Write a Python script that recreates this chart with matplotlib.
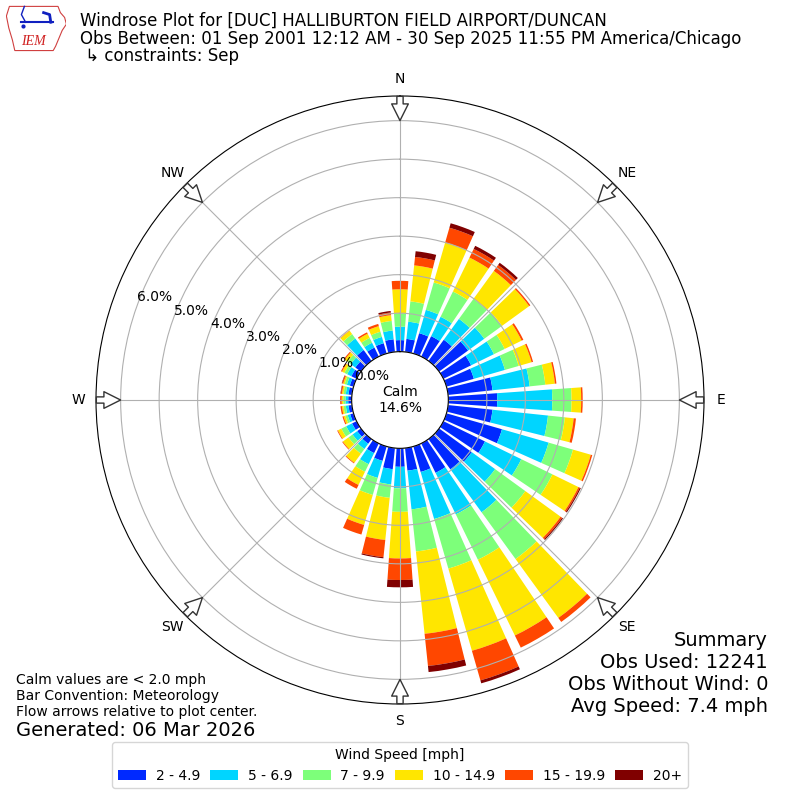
import numpy as np
import matplotlib
matplotlib.use("Agg")
import matplotlib.pyplot as plt
from matplotlib.patches import FancyArrowPatch, Polygon

# wind direction bins (deg, meteorological) and speed bins
directions = np.arange(0, 360, 10)
speed_labels = ["2 - 4.9", "5 - 6.9", "7 - 9.9", "10 - 14.9", "15 - 19.9", "20+"]

# percent of obs per direction, one list per speed bin
spd_2_5 = [0.30, 0.34, 0.55, 0.59, 0.68, 0.93, 0.80, 0.74, 1.16, 1.27, 1.16, 1.50,
           1.20, 1.05, 0.97, 0.85, 0.69, 0.59, 0.48, 0.55, 0.39, 0.28, 0.15, 0.12,
           0.13, 0.09, 0.09, 0.09, 0.09, 0.10, 0.15, 0.18, 0.35, 0.26, 0.28, 0.33]
spd_5_7 = [0.35, 0.45, 0.63, 0.56, 0.67, 0.52, 0.66, 0.84, 0.97, 1.43, 1.45, 1.26,
           1.05, 0.75, 1.38, 1.20, 1.27, 1.01, 0.56, 0.40, 0.46, 0.32, 0.17, 0.15,
           0.17, 0.07, 0.07, 0.07, 0.07, 0.08, 0.12, 0.15, 0.37, 0.14, 0.17, 0.23]
spd_7_10 = [0.35, 0.53, 0.74, 0.73, 0.64, 0.57, 0.31, 0.37, 0.41, 0.50, 0.44, 0.66,
            0.90, 0.97, 1.50, 1.31, 1.34, 1.10, 0.61, 0.35, 0.46, 0.22, 0.15, 0.13,
            0.14, 0.06, 0.06, 0.06, 0.06, 0.06, 0.08, 0.10, 0.14, 0.14, 0.14, 0.25]
spd_10_15 = [0.62, 0.94, 1.08, 0.98, 0.90, 0.87, 0.49, 0.35, 0.25, 0.25, 0.23, 0.48,
             0.75, 1.13, 1.89, 2.19, 2.22, 2.15, 1.21, 1.10, 0.81, 0.38, 0.29, 0.18,
             0.10, 0.05, 0.04, 0.04, 0.04, 0.04, 0.07, 0.09, 0.11, 0.12, 0.15, 0.15]
spd_15_20 = [0.22, 0.22, 0.40, 0.25, 0.19, 0.04, 0.05, 0.04, 0.04, 0.04, 0.06, 0.04,
             0.04, 0.05, 0.13, 0.35, 0.80, 0.84, 0.56, 0.45, 0.26, 0.11, 0.02, 0.02,
             0.02, 0.03, 0.04, 0.04, 0.03, 0.03, 0.03, 0.03, 0.01, 0.04, 0.06, 0.07]
spd_20p = [0.00, 0.15, 0.12, 0.09, 0.07, 0.00, 0.00, 0.00, 0.00, 0.00, 0.00, 0.00,
           0.03, 0.03, 0.00, 0.00, 0.08, 0.16, 0.19, 0.03, 0.00, 0.00, 0.00, 0.00,
           0.00, 0.00, 0.00, 0.00, 0.01, 0.01, 0.00, 0.00, 0.00, 0.00, 0.00, 0.04]

calm_pct = 14.6
obs_used = 12241
obs_no_wind = 0
avg_speed = 7.4

speed_bins = [spd_2_5, spd_5_7, spd_7_10, spd_10_15, spd_15_20, spd_20p]

fig = plt.figure(figsize=(8, 8), dpi=100)
ax = fig.add_axes([0.12, 0.12, 0.76, 0.76], projection="polar")
ax.set_theta_zero_location("N")
ax.set_theta_direction(-1)

colors = plt.cm.jet(np.linspace(0, 1, 7)[1:])
theta = np.deg2rad(directions)
width = np.deg2rad(10) * 0.8
bottom = np.zeros(len(directions))
for vals, color, label in zip(speed_bins, colors, speed_labels):
    vals = np.array(vals)
    ax.bar(theta, vals, width=width, bottom=bottom, color=color,
           label=label, linewidth=0)
    bottom += vals

ax.set_ylim(0, 6.64)
ax.set_rorigin(-1.255)
ax.set_yticks(np.arange(0, 7))
ax.set_yticklabels(["%.1f%%" % v for v in range(7)])
ax.set_rlabel_position(290)
ax.set_xticks(np.deg2rad(np.arange(0, 360, 45)))
ax.set_xticklabels(["N", "NE", "E", "SE", "S", "SW", "W", "NW"])
ax.tick_params(axis="x", pad=2)
ax.grid(True)

ax.text(0.5, 0.5, "Calm\n%.1f%%" % calm_pct, transform=ax.transAxes,
        ha="center", va="center", fontsize=10)

# flow arrows at the rim, pointing to the center
for ang in range(0, 360, 45):
    a = np.deg2rad(ang)
    sx, sy = np.sin(a), np.cos(a)
    arrow = FancyArrowPatch((0.5 + 0.504 * sx, 0.5 + 0.504 * sy),
                            (0.5 + 0.455 * sx, 0.5 + 0.455 * sy),
                            transform=ax.transAxes,
                            arrowstyle="simple,head_length=12,head_width=12,tail_width=4.5",
                            mutation_scale=1, facecolor="white", edgecolor="#333333",
                            lw=1, clip_on=False, zorder=5)
    ax.add_patch(arrow)

# header
fig.text(0.1, 1 - 26 / 800, "Windrose Plot for [DUC] HALLIBURTON FIELD AIRPORT/DUNCAN",
         fontsize=12, va="baseline")
fig.text(0.1, 1 - 43.5 / 800,
         "Obs Between: 01 Sep 2001 12:12 AM - 30 Sep 2025 11:55 PM America/Chicago",
         fontsize=12, va="baseline")
fig.text(0.1, 1 - 61 / 800, " \u21b3 constraints: Sep", fontsize=12, va="baseline")

# logo
lax = fig.add_axes([0.008, 0.935, 0.075, 0.06])
lax.set_xlim(0, 1)
lax.set_ylim(0, 1)
lax.axis("off")
iowa = Polygon([(0.05, 0.95), (0.86, 0.95), (0.9, 0.82), (0.97, 0.72), (1.0, 0.58),
                (0.93, 0.45), (0.88, 0.3), (0.82, 0.12), (0.78, 0.03), (0.14, 0.03),
                (0.1, 0.25), (0.04, 0.5), (0.0, 0.75)],
               closed=True, fill=False, edgecolor="#d04040", lw=0.8)
lax.add_patch(iowa)
lax.plot([0.25, 0.78], [0.62, 0.62], color="#1020c0", lw=1.5)
lax.plot([0.3, 0.25, 0.32], [0.95, 0.78, 0.62], color="#1020c0", lw=1)
lax.plot([0.62, 0.72, 0.74], [0.82, 0.78, 0.62], color="#1020c0", lw=2)
lax.plot([0.28], [0.55], "o", color="#1020c0", ms=2)
lax.text(0.45, 0.22, "IEM", color="#d02020", fontsize=10, style="italic",
         family="Liberation Serif", ha="center", va="center")

# footer notes
fig.text(0.02, 1 - 680 / 800, "Calm values are < 2.0 mph", fontsize=10, va="center")
fig.text(0.02, 1 - 696 / 800, "Bar Convention: Meteorology", fontsize=10, va="center")
fig.text(0.02, 1 - 712 / 800, "Flow arrows relative to plot center.", fontsize=10,
         va="center")
fig.text(0.02, 1 - 730 / 800, "Generated: 06 Mar 2026", fontsize=14, va="center")

summary = ["Summary", "Obs Used: %s" % obs_used, "Obs Without Wind: %s" % obs_no_wind,
           "Avg Speed: %.1f mph" % avg_speed]
for i, line in enumerate(summary):
    fig.text(0.96, 1 - (640 + 22 * i) / 800, line, fontsize=14, ha="right", va="center")

fig.legend(loc="lower center", bbox_to_anchor=(0.5, 0.006), ncol=6, fontsize=10,
           title="Wind Speed [mph]", title_fontsize=10, handletextpad=0.7,
           columnspacing=0.75)

fig.savefig("out.png", dpi=100)
